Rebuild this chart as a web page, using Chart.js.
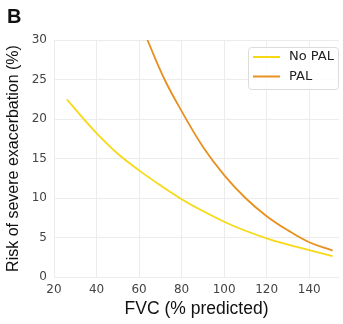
<!DOCTYPE html>
<html>
<head>
<meta charset="utf-8">
<script src="https://cdn.jsdelivr.net/npm/chart.js@4/dist/chart.umd.min.js"></script>
<style>
  html, body { margin: 0; padding: 0; background: #fff; }
  #wrap { width: 343px; height: 324px; position: relative; }
</style>
</head>
<body>
<div id="wrap"><canvas id="risk"></canvas></div>
<script>
// values
const fvcNoPal  = [26, 33, 40, 50, 60, 70, 80, 90, 100, 110, 120, 130, 140, 151];
const riskNoPal = [22.5, 20.3, 18.2, 15.6, 13.5, 11.6, 9.85, 8.35, 7.0, 5.85, 4.9, 4.1, 3.4, 2.65];
const fvcPal    = [63.9, 72, 80, 90, 100, 110, 120, 130, 140, 151];
const riskPal   = [30, 25, 21.0, 16.5, 12.9, 10.0, 7.7, 5.9, 4.4, 3.35];
const seriesNames = ['No PAL', 'PAL'];
const seriesColors = ['#f7d916', '#e8901f'];
const xTicks = [20, 40, 60, 80, 100, 120, 140];
const yTicks = [0, 5, 10, 15, 20, 25, 30];

function toPoints(xs, ys)
{
    return xs.map(function (x, i) { return {x: x, y: ys[i]}; });
}

// panel letter + boxed legend, drawn by hand
const extras = {
    id: 'extras',
    afterDraw: function (chart)
    {
        let ctx = chart.ctx;
        ctx.save();
        ctx.fillStyle = '#111';
        ctx.font = 'bold 20px "Liberation Sans", Arial, sans-serif';
        ctx.textBaseline = 'top';
        ctx.fillText('B', 7, 7);

        let bx = 248, by = 47, bw = 90, bh = 42;
        ctx.beginPath();
        ctx.roundRect(bx + 0.5, by + 0.5, bw, bh, 3);
        ctx.fillStyle = 'rgba(255,255,255,0.85)';
        ctx.fill();
        ctx.strokeStyle = '#dcdcdc';
        ctx.lineWidth = 1;
        ctx.stroke();

        ctx.font = '13px "DejaVu Sans", sans-serif';
        ctx.textBaseline = 'middle';
        for (let i = 0; i < seriesNames.length; i++)
        {
            let y = by + 10 + i * 19.5;
            ctx.beginPath();
            ctx.moveTo(bx + 5, y);
            ctx.lineTo(bx + 32, y);
            ctx.strokeStyle = seriesColors[i];
            ctx.lineWidth = 2;
            ctx.stroke();
            ctx.fillStyle = '#222';
            ctx.fillText(seriesNames[i], bx + 41, y);
        }
        ctx.restore();
    }
};

new Chart(document.getElementById('risk').getContext('2d'),
{
    type: 'line',
    data: {
        datasets: [
            {
                label: seriesNames[0],
                data: toPoints(fvcNoPal, riskNoPal),
                borderColor: seriesColors[0],
                borderWidth: 1.8,
                pointRadius: 0,
                tension: 0.4
            },
            {
                label: seriesNames[1],
                data: toPoints(fvcPal, riskPal),
                borderColor: seriesColors[1],
                borderWidth: 1.8,
                pointRadius: 0,
                tension: 0.4
            }
        ]
    },
    options: {
        responsive: true,
        maintainAspectRatio: false,
        animation: false,
        layout: { padding: { top: 40, right: 4, bottom: 0, left: 0 } },
        plugins: {
            legend: { display: false },
            tooltip: { enabled: false }
        },
        scales: {
            x: {
                type: 'linear',
                min: 20,
                max: 154,
                afterBuildTicks: function (scale) { scale.ticks = xTicks.map(function (v) { return {value: v}; }); },
                afterFit: function (scale) { scale.height = 47; },
                grid: { color: '#ececec', drawTicks: false },
                border: { display: false },
                ticks: { color: '#444', padding: 6, font: { family: 'DejaVu Sans', size: 12 } },
                title: {
                    display: true,
                    text: 'FVC (% predicted)',
                    color: '#111',
                    padding: { top: 12 },
                    font: { family: 'Liberation Sans', size: 17.5 }
                }
            },
            y: {
                min: 0,
                max: 30,
                afterBuildTicks: function (scale) { scale.ticks = yTicks.map(function (v) { return {value: v}; }); },
                afterFit: function (scale) { scale.width = 54; },
                grid: { color: '#ececec', drawTicks: false },
                border: { display: false },
                ticks: { color: '#444', padding: 7, font: { family: 'DejaVu Sans', size: 12 } },
                title: {
                    display: true,
                    text: 'Risk of severe exacerbation (%)',
                    color: '#111',
                    padding: { bottom: 2 },
                    font: { family: 'Liberation Sans', size: 16 }
                }
            }
        }
    },
    plugins: [extras]
});
</script>
</body>
</html>
